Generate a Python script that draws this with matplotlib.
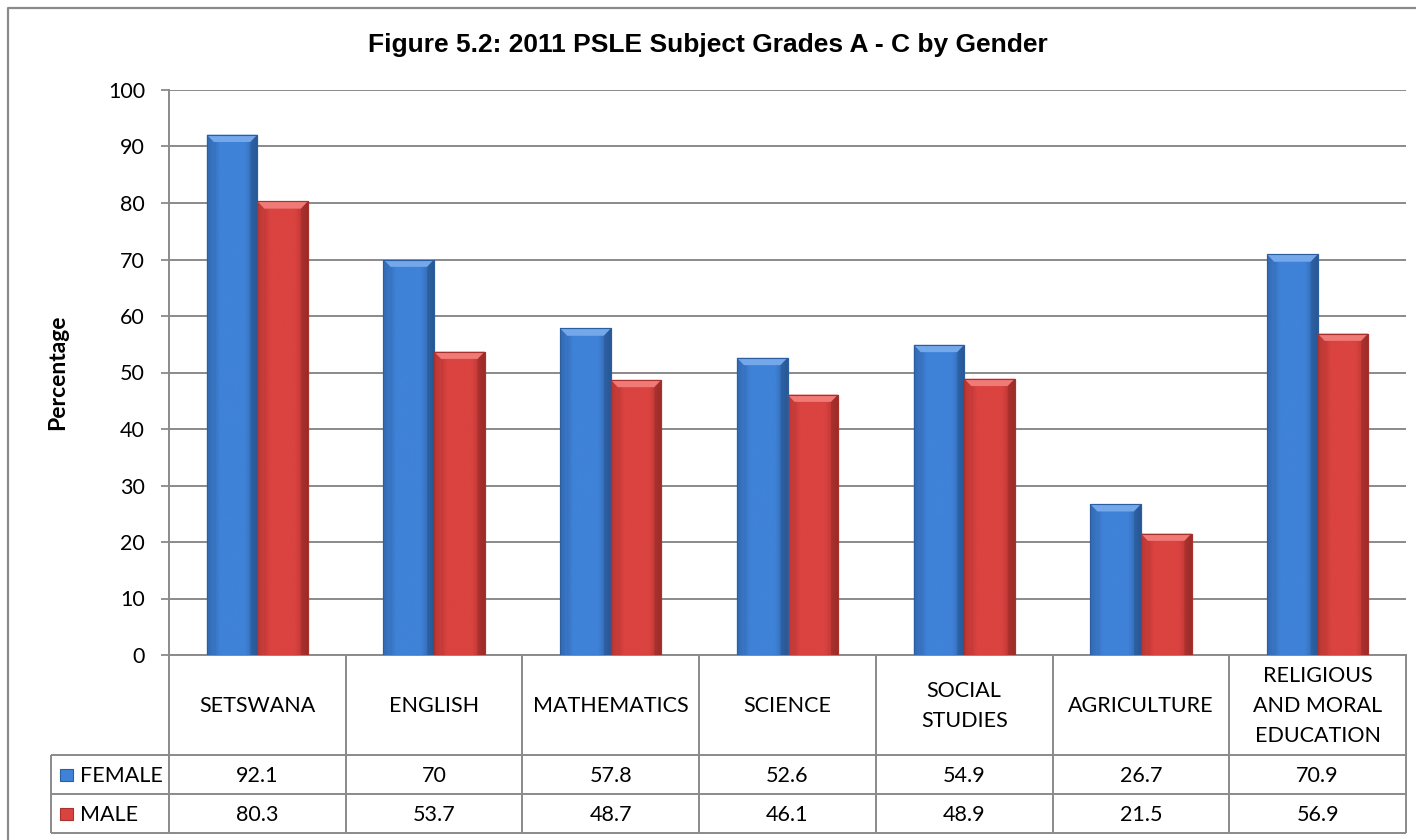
import matplotlib
matplotlib.use("Agg")
import matplotlib.pyplot as plt
import numpy as np
from matplotlib.patches import Rectangle, Polygon
from matplotlib.lines import Line2D
from matplotlib.colors import LinearSegmentedColormap

# ---------------- data ----------------
categories = ["SETSWANA", "ENGLISH", "MATHEMATICS", "SCIENCE",
              "SOCIAL\nSTUDIES", "AGRICULTURE", "RELIGIOUS\nAND MORAL\nEDUCATION"]
female = [92.1, 70, 57.8, 52.6, 54.9, 26.7, 70.9]
male = [80.3, 53.7, 48.7, 46.1, 48.9, 21.5, 56.9]
female_labels = ["92.1", "70", "57.8", "52.6", "54.9", "26.7", "70.9"]
male_labels = ["80.3", "53.7", "48.7", "46.1", "48.9", "21.5", "56.9"]
series_names = ["FEMALE", "MALE"]
yticks = [0, 10, 20, 30, 40, 50, 60, 70, 80, 90, 100]
title = "Figure 5.2: 2011 PSLE Subject Grades A - C by Gender"
ylabel = "Percentage"

# ---------------- style ----------------
W, H = 1416, 840
BODY_FONT = ["Lato", "DejaVu Sans"]
TITLE_FONT = ["Liberation Sans", "DejaVu Sans"]
FS = 15.5
GRAY = "#8a8a8a"
blue_main, blue_edge, blue_light, blue_dark = "#3f82d8", "#2c5e9f", "#74a8ea", "#23508a"
red_main, red_edge, red_light, red_dark = "#da4340", "#a8302d", "#f07a76", "#8f2624"

fig = plt.figure(figsize=(W / 100, H / 100), dpi=100)
fig.patch.set_facecolor("white")


def fx(px):
    return px / W


def fy(py):
    return 1 - py / H


PLOT_L, PLOT_R, PLOT_T, PLOT_B = 169, 1406, 90, 655
TABLE_L, TABLE_B = 51, 833
ax = fig.add_axes([fx(PLOT_L), fy(PLOT_B), fx(PLOT_R) - fx(PLOT_L), fy(PLOT_T) - fy(PLOT_B)])
n = len(categories)
ax.set_xlim(-0.5, n - 0.5)
ax.set_ylim(0, 100)

x = np.arange(n)
bw = 0.287
off = 0.143


def draw_bars(xpos, vals, main, edge, light, dark):
    bars = ax.bar(xpos, vals, width=bw, color=main, edgecolor=edge, linewidth=0.8, zorder=3)
    cmap = LinearSegmentedColormap.from_list("g", [edge, main, main, main, edge])
    grad = np.linspace(0, 1, 64).reshape(1, -1)
    bx = 0.04
    by = 1.3
    for b in bars:
        x0, w, h = b.get_x(), b.get_width(), b.get_height()
        im = ax.imshow(grad, cmap=cmap, aspect="auto", extent=(x0, x0 + w, 0, h),
                       zorder=3.1, interpolation="bicubic")
        im.set_clip_path(b)
        ax.add_patch(Polygon([(x0, h), (x0 + w, h), (x0 + w - bx, h - by), (x0 + bx, h - by)],
                             closed=True, facecolor=light, edgecolor="none", zorder=3.2))
        ax.add_patch(Polygon([(x0, 0), (x0, h), (x0 + bx, h - by), (x0 + bx, 0)],
                             closed=True, facecolor=main, alpha=0.35, edgecolor="none", zorder=3.2))
        ax.add_patch(Polygon([(x0 + w, 0), (x0 + w, h), (x0 + w - bx, h - by), (x0 + w - bx, 0)],
                             closed=True, facecolor=dark, alpha=0.45, edgecolor="none", zorder=3.2))
        ax.add_patch(Rectangle((x0, 0), w, h, facecolor="none", edgecolor=edge,
                               linewidth=0.8, zorder=3.3))
    return bars


draw_bars(x - off, female, blue_main, blue_edge, blue_light, blue_dark)
draw_bars(x + off, male, red_main, red_edge, red_light, red_dark)

ax.set_xticks([])
ax.set_yticks(yticks)
ax.set_yticklabels([str(t) for t in yticks], fontfamily=BODY_FONT, fontsize=FS)
ax.tick_params(axis="y", length=5.8, width=1.3, color=GRAY, pad=11.5, labelcolor="black")
ax.yaxis.grid(True, color=GRAY, linewidth=1.4, zorder=0)
ax.set_axisbelow(True)
for s in ["top", "right"]:
    ax.spines[s].set_visible(False)
for s in ["left", "bottom"]:
    ax.spines[s].set_color(GRAY)
    ax.spines[s].set_linewidth(1.4)

fig.text(fx(58), fy(372), ylabel, rotation=90, ha="center", va="center",
         fontsize=16.5, fontweight="bold", fontfamily=BODY_FONT)
fig.text(fx(708), fy(45), title, ha="center", va="center",
         fontsize=19, fontweight="bold", fontfamily=TITLE_FONT)

# ---------------- data table ----------------
cat_w = (PLOT_R - PLOT_L) / n
tax = fig.add_axes([fx(TABLE_L), fy(TABLE_B), fx(PLOT_R) - fx(TABLE_L), fy(PLOT_B) - fy(TABLE_B)])
xmin = -0.5 - (PLOT_L - TABLE_L) / cat_w
tax.set_xlim(xmin, n - 0.5)
tax.set_ylim(TABLE_B, PLOT_B)
tax.axis("off")

ROW1, ROW2 = 755, 794
lk = dict(color=GRAY, linewidth=1.4, clip_on=False, solid_capstyle="butt")
for i in range(n + 1):
    xb = i - 0.5
    tax.plot([xb, xb], [PLOT_B, TABLE_B], **lk)
tax.plot([xmin, xmin], [ROW1, TABLE_B], **lk)
for yy in [ROW1, ROW2, TABLE_B]:
    tax.plot([xmin, n - 0.5], [yy, yy], **lk)

for i, c in enumerate(categories):
    tax.text(i, (PLOT_B + ROW1) / 2 + 1, c, ha="center", va="center", fontsize=FS,
             fontfamily=BODY_FONT, linespacing=1.6)
    tax.text(i, (ROW1 + ROW2) / 2 + 1, female_labels[i], ha="center", va="center",
             fontsize=FS, fontfamily=BODY_FONT)
    tax.text(i, (ROW2 + TABLE_B) / 2 + 1, male_labels[i], ha="center", va="center",
             fontsize=FS, fontfamily=BODY_FONT)


def px2t(px):
    return -0.5 + (px - PLOT_L) / cat_w


for name, (yc, main, edge) in zip(series_names, [((ROW1 + ROW2) / 2, blue_main, blue_edge),
                                                  ((ROW2 + TABLE_B) / 2, red_main, red_edge)]):
    tax.add_patch(Rectangle((px2t(60), yc + 6), px2t(73) - px2t(60), -12,
                            facecolor=main, edgecolor=edge, linewidth=0.8, clip_on=False))
    tax.text(px2t(80), yc + 1, name, ha="left", va="center", fontsize=FS, fontfamily=BODY_FONT)

fig.add_artist(Line2D([fx(8), fx(8), fx(W)], [fy(H), fy(8), fy(8)],
                      transform=fig.transFigure, color=GRAY, linewidth=1.6))

fig.savefig("out.png", dpi=100)
